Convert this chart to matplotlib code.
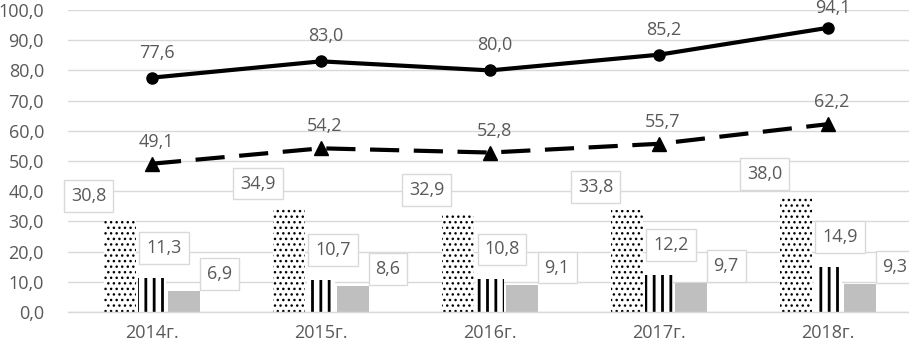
import matplotlib
matplotlib.use("Agg")
import matplotlib.pyplot as plt
import numpy as np

categories = ["2014г.", "2015г.", "2016г.", "2017г.", "2018г."]
line_solid = [77.6, 83.0, 80.0, 85.2, 94.1]
line_dashed = [49.1, 54.2, 52.8, 55.7, 62.2]
bar_dotted = [30.8, 34.9, 32.9, 33.8, 38.0]
bar_striped = [11.3, 10.7, 10.8, 12.2, 14.9]
bar_gray = [6.9, 8.6, 9.1, 9.7, 9.3]
yticks = [0, 10, 20, 30, 40, 50, 60, 70, 80, 90, 100]

def fmt(v):
    return f"{v:.1f}".replace(".", ",")

plt.rcParams['font.family'] = ['Open Sans', 'DejaVu Sans']
TXT = "#595959"
GRID = "#d9d9d9"
FS = 13

W, H = 909, 343
fig = plt.figure(figsize=(W / 100, H / 100), dpi=100)
left_px, right_px = 67.5, 912.5
top_px, bot_px = 10, 312
ax = fig.add_axes([left_px / W, 1 - bot_px / H, (right_px - left_px) / W, (bot_px - top_px) / H])
ppu = (bot_px - top_px) / 100.0  # pixels per data unit

x = np.arange(len(categories))
bw = 0.19

plt.rcParams['hatch.linewidth'] = 1.0
b1 = ax.bar(x - bw, bar_dotted, bw, color="white", edgecolor="black", hatch="...", linewidth=0, zorder=2)
plt.rcParams['hatch.linewidth'] = 2.0
b2 = ax.bar(x, bar_striped, bw * 0.88, color="white", edgecolor="black", hatch="||", linewidth=0, zorder=2)
b3 = ax.bar(x + bw, bar_gray, bw, color="#bfbfbf", linewidth=0, zorder=2)

ax.plot(x, line_solid, color="black", lw=3, marker="o", ms=8, zorder=4, solid_capstyle="round")
ax.plot(x, line_dashed, color="black", lw=3, marker="^", ms=10, zorder=4, dashes=(7, 3.5))

box = dict(boxstyle="square,pad=0.38", fc="white", ec=GRID, lw=1)
px = 0.72  # px -> points

def bar_labels(vals, xoff_data, dx_px, dy_px):
    for xi, v in zip(x, vals):
        ax.annotate(fmt(v), (xi + xoff_data, v), xytext=(dx_px * px, dy_px * px),
                    textcoords="offset points", ha="center", va="center",
                    fontsize=FS, color=TXT, bbox=box, zorder=5)

bar_labels(bar_dotted, -bw, -31, 23)
bar_labels(bar_striped, 0, 12, 30)
bar_labels(bar_gray, bw, 35, 17)

def line_labels(vals, dx_px, dy_px):
    for xi, v in zip(x, vals):
        # keep label baseline inside the figure (at least 13 px from top)
        point_px_from_top = top_px + (100 - v) * ppu
        dy = min(dy_px, point_px_from_top - 13)
        ax.annotate(fmt(v), (xi, v), xytext=(dx_px * px, dy * px), textcoords="offset points",
                    ha="center", va="baseline", fontsize=FS, color=TXT, zorder=5)

line_labels(line_solid, 5, 20)
line_labels(line_dashed, 4, 17)

ax.set_xlim(-0.5, len(categories) - 0.5)
ax.set_ylim(0, 100)
ax.set_yticks(yticks)
ax.set_yticklabels([fmt(t) for t in yticks], fontsize=FS, color=TXT)
ax.set_xticks(x)
ax.set_xticklabels(categories, fontsize=FS, color=TXT)
ax.tick_params(axis="y", length=0, pad=17)
ax.tick_params(axis="x", length=0, pad=9)
ax.grid(axis="y", color=GRID, lw=1, zorder=0)
ax.set_axisbelow(True)
for s in ["top", "right", "left"]:
    ax.spines[s].set_visible(False)
ax.spines["bottom"].set_color(GRID)
ax.spines["bottom"].set_linewidth(1)

fig.savefig("out.png", dpi=100)
